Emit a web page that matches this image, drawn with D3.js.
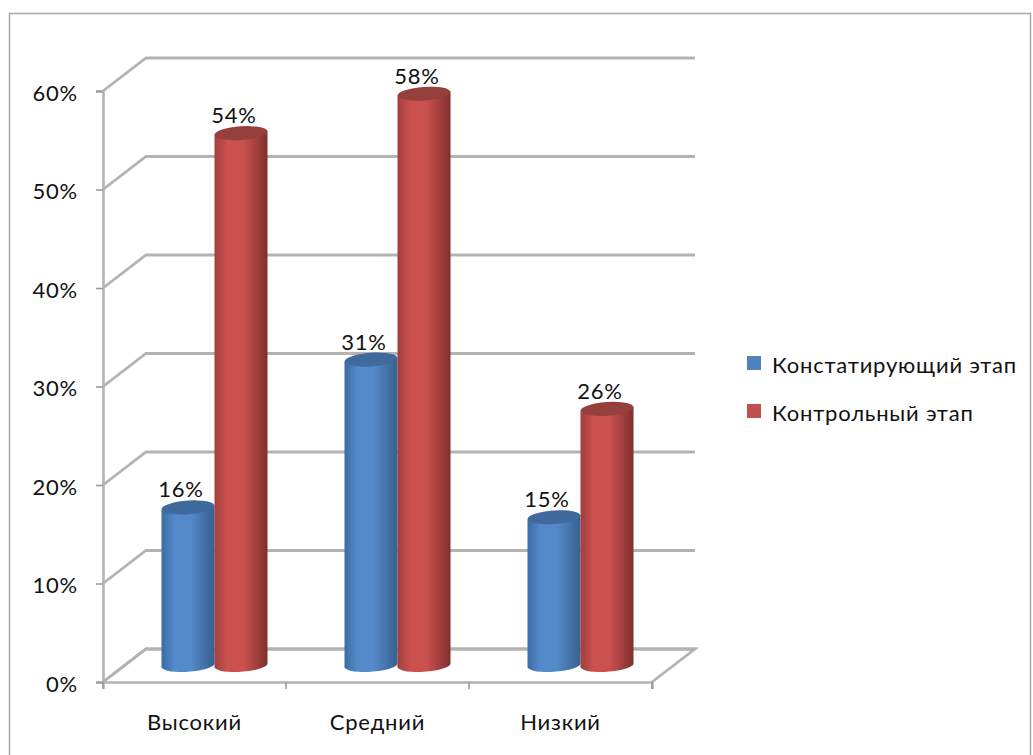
<!DOCTYPE html>
<html>
<head>
<meta charset="utf-8">
<script src="https://cdn.jsdelivr.net/npm/d3@7"></script>
<style>
html,body{margin:0;padding:0;background:#fff;overflow:hidden}
text{font-family:"Lato","Open Sans",sans-serif;fill:#111;letter-spacing:0.8px}
</style>
</head>
<body>
<script>
const categories = ["Высокий", "Средний", "Низкий"]
const seriesNames = ["Констатирующий этап", "Контрольный этап"]
const konstat = [16, 31, 15]
const kontrol = [54, 58, 26]
const yTicks = [0, 10, 20, 30, 40, 50, 60]

const width = 1033, height = 755
const depthX = 43, depthY = 33
const gridColor = "#b3b3b3"
const fontSize = 22

const svg = d3.select("body").append("svg")
    .attr("width", width)
    .attr("height", height)
    .attr("viewBox", `0 0 ${width} ${height}`)

const defs = svg.append("defs")
defs.append("filter").attr("id", "soft").append("feGaussianBlur").attr("stdDeviation", 0.6)

function cylGrad(id, edge, mid, edge2) {
    const g = defs.append("linearGradient").attr("id", id)
    g.append("stop").attr("offset", "0%").attr("stop-color", edge)
    g.append("stop").attr("offset", "25%").attr("stop-color", mid)
    g.append("stop").attr("offset", "55%").attr("stop-color", mid)
    g.append("stop").attr("offset", "100%").attr("stop-color", edge2)
}
cylGrad("blueCyl", "#3a6ba5", "#558aca", "#35608f")
cylGrad("redCyl", "#a03f3d", "#cb5150", "#7f2f2d")

// outer frame
svg.append("rect")
    .attr("x", 9.5).attr("y", 13.5)
    .attr("width", 1021).attr("height", 760)
    .attr("fill", "none").attr("stroke", "#a6a6a6").attr("stroke-width", 1.5)

const x = d3.scaleBand().domain(categories).range([103, 652])
const y = d3.scaleLinear().domain([0, 60]).range([682, 91])

const plot = svg.append("g").attr("filter", "url(#soft)")

// floor
plot.append("path")
    .attr("d", d3.line()([[x.range()[0], y(0)], [x.range()[0] + depthX, y(0) - depthY],
        [x.range()[1] + depthX, y(0) - depthY], [x.range()[1], y(0)]]))
    .attr("fill", "none").attr("stroke", gridColor).attr("stroke-width", 2.8)

// gridlines on the walls
plot.selectAll(".grid")
    .data(yTicks)
    .join("path")
    .attr("class", "grid")
    .attr("d", d => d3.line()([[x.range()[0], y(d)], [x.range()[0] + depthX, y(d) - depthY],
        [x.range()[1] + depthX, y(d) - depthY]]))
    .attr("fill", "none")
    .attr("stroke", gridColor)
    .attr("stroke-width", 2.8)

// axes
const yAxis = svg.append("g").attr("transform", `translate(${x.range()[0]},0)`)
    .call(d3.axisLeft(y).tickValues(yTicks).tickFormat(d => d + "%").tickSize(7).tickPadding(18))
const xAxis = svg.append("g").attr("transform", `translate(0,${y(0)})`)
    .call(d3.axisBottom(x).tickSizeOuter(7).tickSize(7).tickPadding(25))
xAxis.selectAll(".tick line").remove()
xAxis.selectAll(".edge")
    .data(d3.range(4))
    .join("line")
    .attr("class", "edge")
    .attr("x1", i => x.range()[0] + i * x.bandwidth())
    .attr("x2", i => x.range()[0] + i * x.bandwidth())
    .attr("y1", 0).attr("y2", 7)
    .attr("stroke", "#9a9a9a").attr("stroke-width", 1.6)

for (const a of [yAxis, xAxis]) {
    a.attr("font-size", null).attr("font-family", null)
    a.selectAll(".domain").attr("stroke", gridColor).attr("stroke-width", 2.6)
    a.selectAll("text").attr("font-size", fontSize).attr("fill", "#111")
}
yAxis.selectAll("text").attr("dy", "0.42em")
yAxis.selectAll(".tick line").attr("stroke", "#9a9a9a").attr("stroke-width", 1.6)

// cylinders
const barW = 53, ry = 6.8
const inner = d3.scaleBand().domain([0, 1]).range([-barW, barW])
const baseDrop = 17, shiftX = 20

const bars = []
categories.forEach((c, i) => {
    bars.push({ c, s: 0, v: konstat[i] })
    bars.push({ c, s: 1, v: kontrol[i] })
})
const cx = d => x(d.c) + x.bandwidth() / 2 + shiftX + inner(d.s) + barW / 2
const topY = d => y(d.v) - baseDrop
const baseY = () => y(0) - baseDrop

const bar = plot.selectAll(".bar")
    .data(bars)
    .join("g")
    .attr("class", "bar")

bar.append("path")
    .attr("d", d => {
        const l = cx(d) - barW / 2, r = cx(d) + barW / 2
        return `M${l},${topY(d) + 2}L${l},${baseY() + 1}A${barW / 2},${ry} -4 0 0 ${r},${baseY() - 1}L${r},${topY(d) - 2}Z`
    })
    .attr("fill", d => d.s === 0 ? "url(#blueCyl)" : "url(#redCyl)")

bar.append("ellipse")
    .attr("cx", cx)
    .attr("cy", topY)
    .attr("rx", barW / 2)
    .attr("ry", ry)
    .attr("transform", d => `rotate(-4 ${cx(d)} ${topY(d)})`)
    .attr("fill", d => d.s === 0 ? "#3f6b9e" : "#963f3d")

// value labels
svg.selectAll(".val")
    .data(bars)
    .join("text")
    .attr("class", "val")
    .attr("x", d => cx(d) - 7)
    .attr("y", d => topY(d) - 10)
    .attr("text-anchor", "middle")
    .attr("font-size", fontSize)
    .text(d => d.v + "%")

// legend
const legendY = d3.scalePoint().domain(seriesNames).range([363, 411])
const legendColor = d3.scaleOrdinal().domain(seriesNames).range(["#4f81bd", "#c0504d"])
const legend = svg.selectAll(".leg")
    .data(seriesNames)
    .join("g")
    .attr("class", "leg")
    .attr("transform", d => `translate(747,${legendY(d)})`)
legend.append("rect")
    .attr("y", -7).attr("width", 14).attr("height", 14)
    .attr("fill", d => legendColor(d))
legend.append("text")
    .attr("x", 25).attr("y", 10)
    .attr("font-size", fontSize)
    .text(d => d)
</script>
</body>
</html>
